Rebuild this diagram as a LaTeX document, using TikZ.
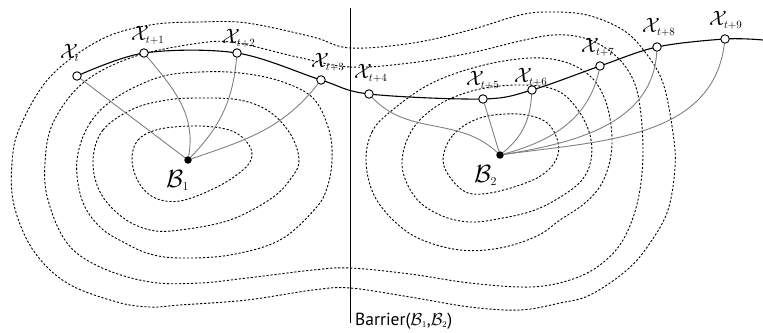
\documentclass[tikz,border=0pt]{standalone}
\usepackage{fontspec}
\newfontfamily\barfont{PT Sans}
\usetikzlibrary{backgrounds}
\newcommand\Xlab[1]{$\mathcal{X}_{\scriptscriptstyle #1}$}
\tikzset{
 contourline/.style={draw=black, line width=0.9pt, dash pattern=on 2.2pt off 1.8pt},
 trajline/.style={draw=black, line width=1.1pt},
 connline/.style={draw=black!50, line width=0.9pt},
 statenode/.style={circle, draw=black, fill=white, line width=0.9pt, minimum size=8.5pt, inner sep=0pt},
 basinnode/.style={circle, fill=black, minimum size=7.5pt, inner sep=0pt},
 labnode/.style={anchor=base west, inner sep=0pt, font=\fontsize{22}{26}\selectfont},
 blabnode/.style={anchor=base west, inner sep=0pt, font=\fontsize{25}{29}\selectfont},
}
\begin{document}
\begin{tikzpicture}[x=1pt,y=-1pt]
\useasboundingbox (0,0) rectangle (763,332);
% states
\node[statenode] (x0) at (77,76) {};
\node[statenode] (x1) at (144,53) {};
\node[statenode] (x2) at (237,53) {};
\node[statenode] (x3) at (321,80) {};
\node[statenode] (x4) at (369,94) {};
\node[statenode] (x5) at (483,99) {};
\node[statenode] (x6) at (532,90) {};
\node[statenode] (x7) at (600,66) {};
\node[statenode] (x8) at (657,47) {};
\node[statenode] (x9) at (725,39) {};
\coordinate (tend) at (763,40);
\node[basinnode] (b1) at (188,160) {};
\node[basinnode] (b2) at (500,155) {};
% labels
\node[labnode] (l0) at (60,58) {\Xlab{t}};
\node[labnode] (l1) at (131,40) {\Xlab{t+1}};
\node[labnode] (l2) at (222,43) {\Xlab{t+2}};
\node[labnode] (l3) at (311,67) {\Xlab{t+3}};
\node[labnode] (l4) at (354,78) {\Xlab{t+4}};
\node[labnode] (l5) at (466,85) {\Xlab{t+5}};
\node[labnode] (l6) at (514,82) {\Xlab{t+6}};
\node[labnode] (l7) at (581,52) {\Xlab{t+7}};
\node[labnode] (l8) at (642,32) {\Xlab{t+8}};
\node[labnode] (l9) at (709,25) {\Xlab{t+9}};
\node[blabnode] (lb1) at (166,187) {$\mathcal{B}_{\scriptscriptstyle 1}$};
\node[blabnode] (lb2) at (474,182) {$\mathcal{B}_{\scriptscriptstyle 2}$};
% barrier
\coordinate (bt) at (350,8);
\coordinate (bb) at (350,323);
\draw[black, line width=1pt] (bt) -- (bb);
\node[anchor=base west, inner sep=0pt, font=\barfont\fontsize{17.5}{20}\selectfont] (blab) at (355,325) {Barrier($\mathcal{B}_{\scriptscriptstyle 1}$,$\mathcal{B}_{\scriptscriptstyle 2}$)};
\begin{scope}[on background layer]
% contours left
\draw[contourline] plot[smooth cycle, tension=0.6] coordinates {(132,160) (138,140) (160,129) (200,126) (232,131) (249,145) (251,160) (238,174) (213,189) (180,201) (155,198) (139,183)};
\draw[contourline] plot[smooth cycle, tension=0.6] coordinates {(93,160) (103,130) (133,109) (167,100) (200,98) (240,100) (270,112) (291,135) (299,160) (292,177) (272,198) (230,220) (180,230) (150,230) (122,217) (100,192)};
\draw[contourline] plot[smooth cycle, tension=0.6] coordinates {(77,160) (90,123) (117,97) (160,77) (200,72) (240,73) (280,81) (313,98) (329,130) (332,160) (327,188) (315,209) (280,240) (230,255) (180,258) (150,254) (125,243) (100,227) (82,200)};
% contours right
\draw[contourline] plot[smooth cycle, tension=0.6] coordinates {(443,160) (453,135) (480,118) (518,114) (546,122) (558,142) (556,160) (542,175) (520,185) (490,193) (468,193) (452,180)};
\draw[contourline] plot[smooth cycle, tension=0.6] coordinates {(402,165) (412,130) (440,104) (480,89) (525,85) (558,91) (578,110) (590,135) (591,160) (582,180) (562,196) (535,210) (503,218) (470,222) (440,215) (415,197)};
\draw[contourline] plot[smooth cycle, tension=0.6] coordinates {(366,160) (372,132) (390,112) (430,84) (480,66) (530,58) (565,62) (590,76) (604,97) (611,125) (611,155) (602,183) (585,203) (560,220) (537,236) (500,248) (460,250) (420,239) (393,220) (373,193)};
% peanut contours
\draw[contourline] plot[smooth cycle, tension=0.6] coordinates {(297,57) (350,67) (410,63) (470,53) (520,41) (553,35) (580,37) (604,47) (625,66) (638,95) (643,150) (638,200) (623,240) (600,265) (570,280) (530,287) (470,283) (410,274) (350,268) (313,270) (247,278) (200,283) (150,282) (100,267) (67,243) (48,200) (45,163) (53,123) (83,83) (133,57) (200,43) (237,43)};
\draw[contourline] plot[smooth cycle, tension=0.6] coordinates {(12,163) (20,127) (50,77) (100,40) (150,25) (200,22) (247,23) (313,37) (350,48) (413,43) (470,30) (520,15) (550,12) (587,15) (623,30) (645,52) (663,83) (673,133) (675,167) (668,210) (650,243) (627,270) (590,295) (560,303) (520,310) (470,307) (410,297) (350,288) (313,290) (247,300) (180,305) (150,307) (117,302) (67,283) (33,250) (14,205)};
% trajectory
\draw[trajline] plot[smooth, tension=0.55] coordinates {(x0.center) (x1.center) (x2.center) (x3.center) (x4.center) (x5.center) (x6.center) (x7.center) (x8.center) (x9.center) (tend)};
% connectors
\draw[connline] (x0) -- (b1);
\draw[connline] (x1) to[out=-50,in=80] (b1);
\draw[connline] (x2) to[out=-95,in=46] (b1);
\draw[connline] (x3) to[out=-128,in=19] (b1);
\draw[connline] (x4) to[out=-47,in=137] (b2);
\draw[connline] (x5) -- (b2);
\draw[connline] (x6) to[out=-94,in=39] (b2);
\draw[connline] (x7) to[out=-102,in=15] (b2);
\draw[connline] (x8) to[out=-93,in=9] (b2);
\draw[connline] (x9) to[out=-97,in=8] (b2);
\end{scope}
\end{tikzpicture}
\end{document}
